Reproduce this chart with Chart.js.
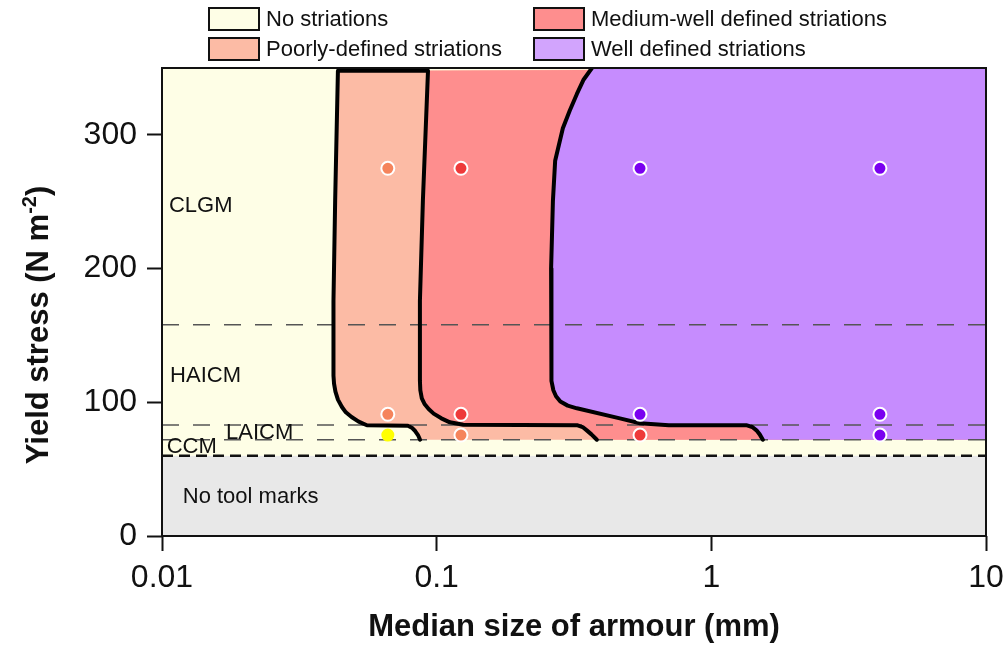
<!DOCTYPE html>
<html>
<head>
<meta charset="utf-8">
<title>Tool marks vs armour size</title>
<script src="https://cdn.jsdelivr.net/npm/chart.js@4.4.1/dist/chart.umd.min.js"></script>
<style>
  body { margin: 0; background: #fff; }
  #wrap { position: relative; width: 1008px; height: 650px; }
  #legend {
    position: absolute; left: 208px; top: 7px;
    display: grid; grid-auto-flow: column;
    grid-template-rows: 24px 24px; grid-template-columns: 325px auto;
    row-gap: 6px;
    font-family: "Liberation Sans", Arial, sans-serif; font-size: 22px; color: #111;
  }
  .item { display: flex; align-items: center; white-space: nowrap; }
  .box { width: 48px; height: 20px; border: 2px solid #111; margin-right: 6px; }
</style>
</head>
<body>
<div id="wrap">
  <canvas id="chart" width="1008" height="650"></canvas>
  <div id="legend"></div>
</div>
<script>
// axis ranges and ticks
const xMin = 0.01, xMax = 10;
const yMin = 0, yMax = 350;
const xTicks = [0.01, 0.1, 1, 10];
const yTicks = [0, 100, 200, 300];

// limits of the bands
const noMarksTop = 60;     // below this: no tool marks
const striationBase = 72;  // striation fields start here
const levelLines = [72, 83, 158];

// boundary no striations / poorly-defined (bottom -> top)
const poorX = [0.087, 0.0855, 0.0835, 0.0812, 0.0786, 0.0557, 0.052, 0.049, 0.0467, 0.0452, 0.0437, 0.0428, 0.0423, 0.0421, 0.0421, 0.0427, 0.0437];
const poorY = [72, 75.5, 78.5, 81, 82.5, 82.8, 85.5, 89, 92.5, 96.5, 102, 108, 114, 120, 176, 251, 348];

// boundary poorly-defined / medium-well (top -> bottom)
const medX = [0.093, 0.0891, 0.0869, 0.0869, 0.0872, 0.0883, 0.0905, 0.0935, 0.0975, 0.104, 0.1117, 0.125, 0.326, 0.34, 0.352, 0.366, 0.383];
const medY = [348, 251, 176, 116, 109, 103, 98.5, 95, 91.5, 88, 85, 83.2, 82.8, 81.5, 79, 76, 72];

// boundary medium-well / well defined (top -> bottom)
const wellX = [0.3675, 0.342, 0.324, 0.305, 0.288, 0.27, 0.265, 0.261, 0.261, 0.2625, 0.266, 0.272, 0.282, 0.3, 0.324, 0.4645, 0.55, 0.7, 1.348, 1.41, 1.46, 1.5, 1.54];
const wellY = [350, 341, 330.6, 318, 305, 280.6, 250.7, 200, 125, 116, 109, 104.5, 100.5, 97.5, 95.5, 88, 84.3, 82.8, 82.8, 81.5, 79, 76, 72];

// experiments
const sampleX = [0.0664, 0.1226, 0.55, 4.11];
const sampleY = [275, 91, 75.5];
const sampleClass = [
    ['poor', 'medium', 'well', 'well'],
    ['poor', 'medium', 'well', 'well'],
    ['none', 'poor', 'medium', 'well']
];
const classColors = { none: '#ffff00', poor: '#f5845c', medium: '#ee3a3a', well: '#7a00f0' };

// zone names written in the plot
const zoneNames = ['CLGM', 'HAICM', 'LAICM', 'CCM', 'No tool marks'];
const zoneX = [0.0106, 0.0107, 0.0171, 0.0104, 0.0119];
const zoneY = [247, 120, 77, 66.4, 29];

// legend
const legendNames = ['No striations', 'Poorly-defined striations', 'Medium-well defined striations', 'Well defined striations'];
const legendColors = ['#fefee6', '#fcbba5', '#fe8e8e', '#d2a4fd'];

const fontFamily = '"Liberation Sans", Arial, sans-serif';
Chart.defaults.font.family = fontFamily;
Chart.defaults.color = '#111';

function pts(xs, ys) {
    return xs.map((x, i) => ({ x: x, y: ys[i] }));
}

function area(data, color, order) {
    return { data: data, showLine: true, fill: 'shape', backgroundColor: color,
             borderWidth: 0, pointRadius: 0, tension: 0, order: order };
}

function curve(data) {
    return { data: data, showLine: true, fill: false, borderColor: '#000', borderWidth: 4,
             pointRadius: 0, tension: 0, borderJoinStyle: 'round', borderCapStyle: 'round', order: 1 };
}

function hline(level, color, width, dash) {
    return { data: [{ x: xMin, y: level }, { x: xMax, y: level }], showLine: true, fill: false,
             borderColor: color, borderWidth: width, borderDash: dash, pointRadius: 0, order: 2 };
}

// points, coloured by class
const samplePoints = [], sampleFill = [], sampleRing = [], sampleSize = [];
sampleY.forEach((y, r) => sampleX.forEach((x, c) => {
    const k = sampleClass[r][c];
    samplePoints.push({ x: x, y: y });
    sampleFill.push(classColors[k]);
    sampleRing.push(k === 'none' ? classColors[k] : '#ffffff');
    sampleSize.push(k === 'none' ? 5.5 : 6.5);
}));

const poorLine = pts(poorX, poorY);
const medLine = pts(medX, medY);
const wellLine = pts(wellX, wellY);
const rightBottom = { x: xMax, y: striationBase };
const rightTop = { x: xMax, y: yMax };

const datasets = [
    { data: samplePoints, showLine: false, pointRadius: sampleSize, pointBackgroundColor: sampleFill,
      pointBorderColor: sampleRing, pointBorderWidth: 2, order: 0 },
    curve(poorLine.concat(medLine)),
    curve(wellLine),
    hline(noMarksTop, '#111', 2.5, [11, 6]),
    ...levelLines.map(v => hline(v, '#555', 1.5, [17, 14])),
    area(wellLine.concat([rightBottom, rightTop]), '#c68cfe', 3),
    area(medLine.concat([rightBottom, rightTop]), '#fe8e8e', 4),
    area(poorLine.concat([rightTop, rightBottom]), '#fcbba5', 5),
    area(pts([xMin, xMax, xMax, xMin], [noMarksTop, noMarksTop, yMax, yMax]), '#fefee6', 6),
    area(pts([xMin, xMax, xMax, xMin], [yMin, yMin, noMarksTop, noMarksTop]), '#e8e8e8', 7)
];

// zone names and the frame round the plot
const overlayPlugin = {
    id: 'overlay',
    afterDatasetsDraw(chart) {
        const { ctx, chartArea: a, scales: { x, y } } = chart;
        ctx.save();
        ctx.font = '22px ' + fontFamily;
        ctx.fillStyle = '#111';
        ctx.textBaseline = 'middle';
        ctx.textAlign = 'left';
        zoneNames.forEach((t, i) => {
            ctx.fillText(t, x.getPixelForValue(zoneX[i]), y.getPixelForValue(zoneY[i]));
        });
        ctx.strokeStyle = '#111';
        ctx.lineWidth = 2;
        ctx.strokeRect(a.left, a.top, a.right - a.left, a.bottom - a.top);
        ctx.restore();
    }
};

// y title with a real superscript, centred on the figure height
const yTitlePlugin = {
    id: 'yTitle',
    afterDraw(chart) {
        const ctx = chart.ctx;
        const parts = [
            { t: 'Yield stress (N m', f: 'bold 31px ' + fontFamily, dy: 0 },
            { t: '-2', f: 'bold 20px ' + fontFamily, dy: -12 },
            { t: ')', f: 'bold 31px ' + fontFamily, dy: 0 }
        ];
        ctx.save();
        let total = 0;
        parts.forEach(p => { ctx.font = p.f; p.w = ctx.measureText(p.t).width; total += p.w; });
        ctx.translate(37, chart.height / 2);
        ctx.rotate(-Math.PI / 2);
        ctx.fillStyle = '#111';
        ctx.textBaseline = 'alphabetic';
        ctx.textAlign = 'left';
        let pos = -total / 2;
        parts.forEach(p => {
            ctx.font = p.f;
            ctx.fillText(p.t, pos, 11 + p.dy);
            pos += p.w;
        });
        ctx.restore();
    }
};

new Chart(document.getElementById('chart'), {
    type: 'scatter',
    data: { datasets: datasets },
    plugins: [overlayPlugin, yTitlePlugin],
    options: {
        responsive: false,
        animation: false,
        events: [],
        layout: { padding: { top: 68, right: 22, left: 0, bottom: 0 } },
        plugins: { legend: { display: false }, tooltip: { enabled: false } },
        scales: {
            x: {
                type: 'logarithmic', min: xMin, max: xMax,
                afterBuildTicks: s => { s.ticks = xTicks.map(v => ({ value: v })); },
                afterFit: s => { s.height = 114; s.paddingLeft = 0; s.paddingRight = 0; },
                ticks: { callback: v => String(v), font: { size: 32 }, color: '#111', padding: 8,
                         autoSkip: false, maxRotation: 0 },
                grid: { drawOnChartArea: false, tickLength: 15, tickColor: '#111', tickWidth: 2 },
                border: { display: false },
                title: { display: true, text: 'Median size of armour (mm)', color: '#111',
                         font: { size: 31, weight: 'bold' }, padding: { top: 0, bottom: 4 } }
            },
            y: {
                min: yMin, max: yMax,
                afterBuildTicks: s => { s.ticks = yTicks.map(v => ({ value: v })); },
                afterFit: s => { s.width = 162; s.paddingTop = 0; s.paddingBottom = 0; },
                ticks: { font: { size: 32 }, color: '#111', padding: 10 },
                grid: { drawOnChartArea: false, tickLength: 15, tickColor: '#111', tickWidth: 2 },
                border: { display: false },
                title: { display: false }
            }
        }
    }
});

// legend in two columns
const legendEl = document.getElementById('legend');
legendNames.forEach((name, i) => {
    const item = document.createElement('div');
    item.className = 'item';
    item.innerHTML = '<span class="box" style="background:' + legendColors[i] + '"></span>' + name;
    legendEl.appendChild(item);
});
</script>
</body>
</html>
